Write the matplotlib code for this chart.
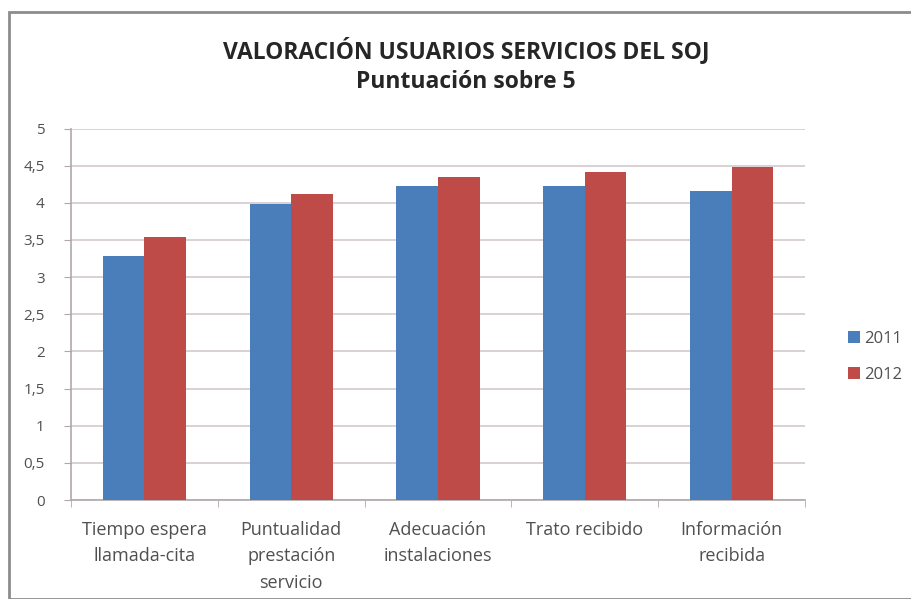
import matplotlib
matplotlib.use("Agg")
import matplotlib.pyplot as plt
import numpy as np
from matplotlib.patches import Rectangle
from matplotlib.ticker import FixedLocator

categories = ["Tiempo espera\nllamada-cita", "Puntualidad\nprestación\nservicio",
              "Adecuación\ninstalaciones", "Trato recibido", "Información\nrecibida"]
series_names = ["2011", "2012"]
values_2011 = [3.29, 3.98, 4.22, 4.23, 4.16]
values_2012 = [3.54, 4.12, 4.35, 4.41, 4.48]
y_ticks = [0, 0.5, 1, 1.5, 2, 2.5, 3, 3.5, 4, 4.5, 5]
y_tick_labels = ["0", "0,5", "1", "1,5", "2", "2,5", "3", "3,5", "4", "4,5", "5"]

plt.rcParams['font.family'] = ['Open Sans', 'DejaVu Sans']

W, H = 912, 599
fig = plt.figure(figsize=(W/100, H/100), dpi=100)
fig.patch.set_facecolor('white')

# outer chart border
fig.add_artist(Rectangle((9/W, 0), 1.2, (H-12)/H, transform=fig.transFigure,
                         fill=False, edgecolor='#8c8c8c', linewidth=2))

left, right, top, bottom = 71, 805, 128.5, 500
ax = fig.add_axes([left/W, 1-bottom/H, (right-left)/W, (bottom-top)/H])

x = np.arange(len(categories))
w = 0.283
c1, c2 = '#4A7EBB', '#BE4B48'
ax.bar(x - w/2, values_2011, w, color=c1, label=series_names[0], zorder=3)
ax.bar(x + w/2, values_2012, w, color=c2, label=series_names[1], zorder=3)

ax.set_xlim(-0.5, len(categories) - 0.5)
ax.set_ylim(0, 5)
ax.set_yticks(y_ticks)
ax.set_yticklabels(y_tick_labels, fontsize=11, color='#505050')
ax.yaxis.grid(True, color='#d8cfcf', linewidth=1.3, zorder=0)
ax.set_axisbelow(True)

ax.set_xticks(x)
ax.set_xticklabels(categories, fontsize=13, color='#505050', linespacing=1.6)
ax.tick_params(axis='x', length=0, pad=15)
ax.xaxis.set_minor_locator(FixedLocator(np.arange(-0.5, len(categories), 1.0)))
ax.tick_params(axis='x', which='minor', length=5, color='#b0a8a8')
ax.tick_params(axis='y', length=5, color='#b0a8a8', pad=14)

for s in ['top', 'right']:
    ax.spines[s].set_visible(False)
for s in ['left', 'bottom']:
    ax.spines[s].set_color('#b0a8a8')
    ax.spines[s].set_linewidth(1.2)

fig.text(466/W, 1-51/H, "VALORACIÓN USUARIOS SERVICIOS DEL SOJ", ha='center', va='center',
         fontsize=16.5, fontweight='bold', color='#262626')
fig.text(466/W, 1-82/H, "Puntuación sobre 5", ha='center', va='center',
         fontsize=16.5, fontweight='bold', color='#262626')

leg = fig.legend(loc='center left', bbox_to_anchor=(833/W, 1-357/H), frameon=False,
                 fontsize=12, handlelength=0.75, handleheight=0.75, handletextpad=0.2,
                 labelspacing=1.2, labelcolor='#505050')

fig.savefig("out.png", dpi=100, facecolor='white')
